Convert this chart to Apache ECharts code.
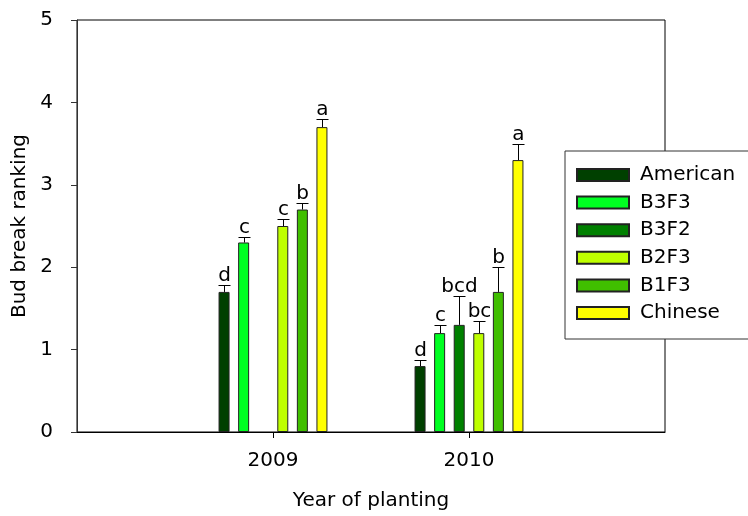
<!DOCTYPE html>
<html>
<head>
<meta charset="utf-8">
<script src="https://cdn.jsdelivr.net/npm/echarts@6/dist/echarts.min.js"></script>
<style>
  html, body { margin: 0; padding: 0; background: #fff; }
  #chart { width: 748px; height: 516px; }
</style>
</head>
<body>
<div id="chart"></div>
<script>
// Planting years shown on the x axis (with empty padding slots at both ends)
const years = ['2009', '2010'];
const categories = [''].concat(years, [' ']);

// Genotypes (series) and their colours
const genotypes = ['American', 'B3F3', 'B3F2', 'B2F3', 'B1F3', 'Chinese'];
const colors = ['#004000', '#00FF22', '#008000', '#BFFF00', '#40BF00', '#FFFF00'];

// Mean bud break ranking per genotype, [2009, 2010]
const american = [1.7, 0.8];
const b3f3 = [2.3, 1.2];
const b3f2 = [null, 1.3];
const b2f3 = [2.5, 1.2];
const b1f3 = [2.7, 1.7];
const chinese = [3.7, 3.3];

// Standard errors, [2009, 2010]
const americanErr = [0.08, 0.07];
const b3f3Err = [0.07, 0.1];
const b3f2Err = [null, 0.35];
const b2f3Err = [0.08, 0.15];
const b1f3Err = [0.08, 0.3];
const chineseErr = [0.1, 0.2];

// Significance letters, [2009, 2010]
const americanSig = ['d', 'd'];
const b3f3Sig = ['c', 'c'];
const b3f2Sig = [null, 'bcd'];
const b2f3Sig = ['c', 'bc'];
const b1f3Sig = ['b', 'b'];
const chineseSig = ['a', 'a'];

const yTicks = [0, 1, 2, 3, 4, 5];

const means = [american, b3f3, b3f2, b2f3, b1f3, chinese];
const errs = [americanErr, b3f3Err, b3f2Err, b2f3Err, b1f3Err, chineseErr];
const sigs = [americanSig, b3f3Sig, b3f2Sig, b2f3Sig, b1f3Sig, chineseSig];

const BAR_W = 11;
const BAR_GAP = 0.78;
const SLOT = BAR_W * (1 + BAR_GAP);
function barOffset(i) { return (i - (genotypes.length - 1) / 2) * SLOT; }

const FONT = '"DejaVu Sans", sans-serif';

const barSeries = genotypes.map(function (name, i) {
  return {
    name: name,
    type: 'bar',
    barWidth: BAR_W,
    barGap: (BAR_GAP * 100) + '%',
    itemStyle: { color: colors[i], borderColor: '#222', borderWidth: 1 },
    data: [null].concat(means[i], [null]),
    z: 2
  };
});

// Error bars with significance letters
const errItems = [];
genotypes.forEach(function (name, i) {
  years.forEach(function (y, j) {
    if (means[i][j] == null) return;
    errItems.push({ cat: j + 1, v: means[i][j], e: errs[i][j], s: i, letter: sigs[i][j] });
  });
});

const errSeries = {
  type: 'custom',
  z: 3,
  silent: true,
  data: errItems.map(function (d) { return [d.cat, d.v + d.e]; }),
  renderItem: function (params, api) {
    const d = errItems[params.dataIndex];
    const base = api.coord([d.cat, d.v]);
    const top = api.coord([d.cat, d.v + d.e]);
    const x = Math.round(base[0] + barOffset(d.s)) + 0.5;
    const yt = Math.round(top[1]) + 0.5;
    return {
      type: 'group',
      children: [
        { type: 'line', shape: { x1: x, y1: base[1], x2: x, y2: yt }, style: { stroke: '#000', lineWidth: 1 } },
        { type: 'line', shape: { x1: x - 6, y1: yt, x2: x + 6, y2: yt }, style: { stroke: '#000', lineWidth: 1 } },
        { type: 'text', style: { text: d.letter, x: x, y: yt, align: 'center', verticalAlign: 'bottom',
            fontSize: 20, fontFamily: FONT, fill: '#000' } }
      ]
    };
  }
};

const chart = echarts.init(document.getElementById('chart'), null, { renderer: 'canvas' });
chart.setOption({
  animation: false,
  backgroundColor: '#fff',
  grid: { left: 77, right: 83, top: 20, bottom: 84, show: true, borderColor: '#000', borderWidth: 1 },
  legend: {
    data: genotypes,
    orient: 'vertical',
    left: 565,
    top: 151,
    padding: [14, 40, 16, 11],
    itemWidth: 52,
    itemHeight: 12,
    itemGap: 7.6,
    icon: 'rect',
    backgroundColor: '#fff',
    borderColor: '#333',
    borderWidth: 1,
    selectedMode: false,
    textStyle: { fontSize: 20, fontFamily: FONT, color: '#000', lineHeight: 20, padding: [0, 0, 0, 6] }
  },
  xAxis: {
    type: 'category',
    data: categories,
    boundaryGap: false,
    name: 'Year of planting',
    nameLocation: 'middle',
    nameGap: 59,
    nameTextStyle: { fontSize: 20, fontFamily: FONT, color: '#000' },
    axisLine: { lineStyle: { color: '#000', width: 1 } },
    axisTick: { length: 6, lineStyle: { color: '#000' },
      interval: function (idx) { return idx > 0 && idx < categories.length - 1; } },
    axisLabel: { margin: 19, fontSize: 20, fontFamily: FONT, color: '#000',
      interval: function (idx) { return idx > 0 && idx < categories.length - 1; } },
    splitLine: { show: false }
  },
  yAxis: {
    type: 'value',
    min: yTicks[0],
    max: yTicks[yTicks.length - 1],
    interval: 1,
    name: 'Bud break ranking',
    nameLocation: 'middle',
    nameGap: 46,
    nameTextStyle: { fontSize: 20, fontFamily: FONT, color: '#000' },
    axisLine: { show: true, lineStyle: { color: '#333', width: 1 } },
    axisTick: { show: true, length: 6, lineStyle: { color: '#333' } },
    axisLabel: { margin: 24, fontSize: 20, fontFamily: FONT, color: '#000' },
    splitLine: { show: false }
  },
  series: barSeries.concat([errSeries])
});
</script>
</body>
</html>
